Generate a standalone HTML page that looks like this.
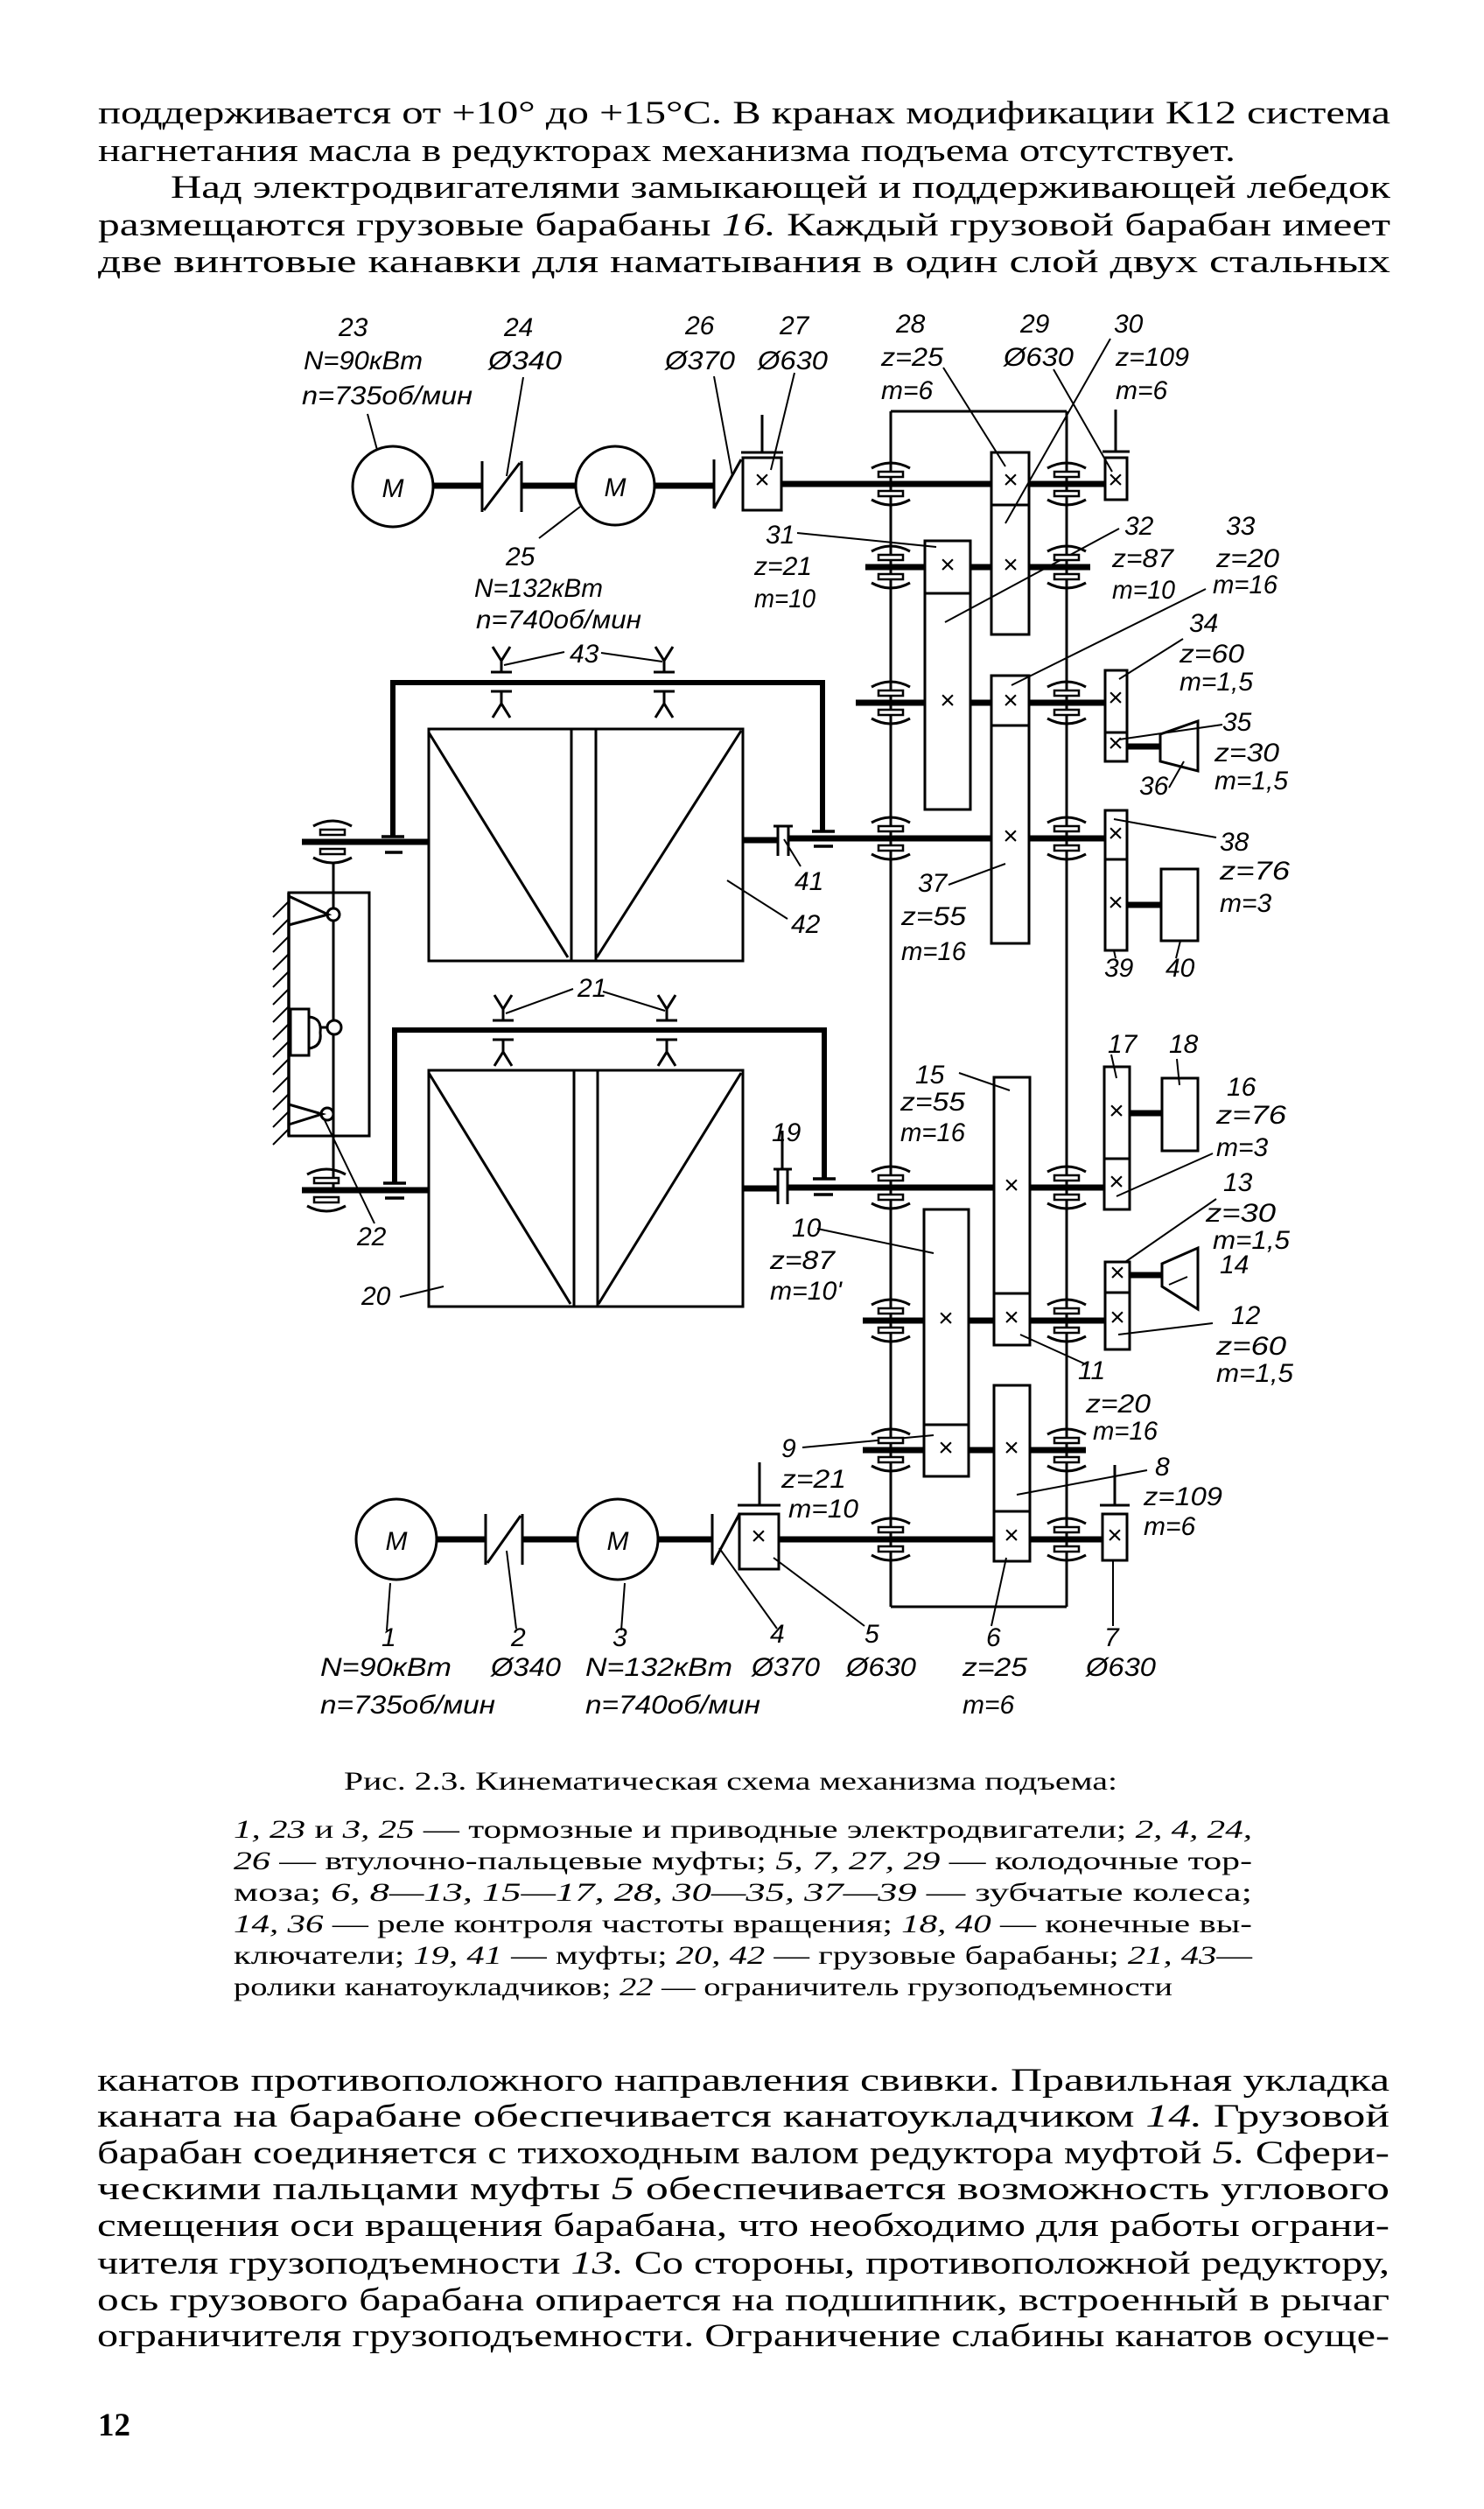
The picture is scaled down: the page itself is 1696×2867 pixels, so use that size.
<!DOCTYPE html>
<html><head><meta charset="utf-8"><style>
html,body{margin:0;padding:0;background:#fff}
svg{display:block}
.t{font-family:"Liberation Serif",serif;font-size:37px;fill:#000}
.c{font-family:"Liberation Serif",serif;font-size:30px;fill:#000}
.l{font-family:"Liberation Sans",sans-serif;font-style:italic;font-size:30px;fill:#000}
.i{font-style:italic}
</style></head><body>
<svg width="1696" height="2867" viewBox="0 0 1696 2867" xmlns="http://www.w3.org/2000/svg">
<defs>
<g id="br"><rect x="-14" y="-14" width="28" height="6" fill="#fff" stroke="#000" stroke-width="2.5"/><rect x="-14" y="8" width="28" height="6" fill="#fff" stroke="#000" stroke-width="2.5"/><path d="M-22,-18 Q0,-30 22,-18 M-22,18 Q0,30 22,18" fill="none" stroke="#000" stroke-width="3"/></g>
<g id="ry"><path d="M-10,-40 L0,-24 L10,-40 M0,-24 V-11 M-12,-11 H12 M-12,11 H12 M0,11 V25 M-10,41 L0,25 L10,41" fill="none" stroke="#000" stroke-width="3"/></g>
</defs>
<!-- top text -->
<text class="t" x="112" y="141" textLength="1477" lengthAdjust="spacingAndGlyphs">поддерживается от +10° до +15°С. В кранах модификации К12 система</text>
<text class="t" x="112" y="184" textLength="1300" lengthAdjust="spacingAndGlyphs">нагнетания масла в редукторах механизма подъема отсутствует.</text>
<text class="t" x="195" y="226" textLength="1394" lengthAdjust="spacingAndGlyphs">Над электродвигателями замыкающей и поддерживающей лебедок</text>
<text class="t" x="112" y="269" textLength="1477" lengthAdjust="spacingAndGlyphs">размещаются грузовые барабаны <tspan class="i">16.</tspan> Каждый грузовой барабан имеет</text>
<text class="t" x="112" y="311" textLength="1477" lengthAdjust="spacingAndGlyphs">две винтовые канавки для наматывания  в один слой  двух  стальных</text>

<g fill="none" stroke="#000" stroke-width="3">
<path d="M1018,470 H1219 M1018,470 V1836 M1219,470 V1836 M1018,1836 H1219"/>
<g stroke-width="7">
<path d="M495,555 H551 M596,555 H658 M748,555 H816 M893,553 H1133 M1176,553 H1263"/>
<path d="M989,648 H1057 M1109,648 H1133 M1176,648 H1246"/>
<path d="M978,803 H1057 M1109,803 H1133 M1176,803 H1263"/>
<path d="M345,962 H490 M849,960 H889 M901,958 H1133 M1176,958 H1263"/>
<path d="M1288,853 H1326 M1288,1034 H1327"/>
<path d="M345,1360 H490 M849,1358 H889 M900,1357 H1136 M1177,1357 H1262"/>
<path d="M986,1509 H1056 M1107,1509 H1136 M1177,1509 H1263"/>
<path d="M986,1657 H1056 M1107,1657 H1136 M1177,1657 H1241"/>
<path d="M499,1759 H555 M597,1759 H660 M752,1759 H814 M890,1759 H1136 M1177,1759 H1260"/>
<path d="M1291,1272 H1328 M1291,1457 H1328"/>
</g>
<circle cx="449" cy="556" r="46"/><circle cx="703" cy="555" r="45"/>
<circle cx="453" cy="1759" r="46"/><circle cx="706" cy="1759" r="46"/>
<path d="M551,527 V585 M596,527 V585 M553,583 L594,529"/>
<path d="M816,525 V581 M816,581 L847,525"/>
<path d="M555,1730 V1788 M597,1730 V1788 M557,1786 L595,1732"/>
<path d="M814,1730 V1788 M814,1788 L845,1730"/>
<g fill="#fff">
<rect x="849" y="523" width="44" height="60"/><rect x="1263" y="523" width="25" height="48"/>
<rect x="845" y="1730" width="45" height="63"/><rect x="1260" y="1730" width="28" height="53"/>
<rect x="1133" y="517" width="43" height="208"/>
<rect x="1057" y="618" width="52" height="307"/>
<rect x="1133" y="772" width="43" height="306"/>
<rect x="1263" y="766" width="25" height="104"/>
<rect x="1263" y="926" width="25" height="160"/>
<rect x="1327" y="993" width="42" height="82"/>
<polygon points="1326,839 1369,824 1369,881 1326,870"/>
<rect x="1136" y="1231" width="41" height="306"/>
<rect x="1056" y="1382" width="51" height="305"/>
<rect x="1136" y="1583" width="41" height="201"/>
<rect x="1262" y="1219" width="29" height="163"/>
<rect x="1328" y="1232" width="41" height="83"/>
<rect x="1263" y="1442" width="28" height="100"/>
<polygon points="1328,1444 1369,1426 1369,1496 1328,1470"/>
</g>
<path d="M1133,577 H1176 M1057,678 H1109 M1133,829 H1176 M1263,837 H1288 M1263,982 H1288 M1136,1478 H1177 M1056,1628 H1107 M1136,1727 H1177 M1262,1324 H1291 M1263,1477 H1291"/>
<path d="M871,474 V517 M847,517 H895 M1275,468 V516 M1260,516 H1291 M868,1671 V1720 M843,1720 H892 M1274,1674 V1720 M1257,1720 H1291"/>
<rect x="490" y="833" width="359" height="265"/>
<path d="M653,833 V1098 M681,833 V1098 M490,837 L649,1094 M847,835 L682,1094"/>
<rect x="490" y="1223" width="359" height="270"/>
<path d="M656,1223 V1493 M683,1223 V1493 M490,1226 L652,1490 M847,1226 L684,1490"/>
<path d="M449,956 V780 H940 V950" stroke-width="6"/>
<path d="M436,956 H462 M440,974 H460 M928,950 H954 M930,967 H952" stroke-width="3.5"/>
<path d="M451,1352 V1177 H942 V1347" stroke-width="6"/>
<path d="M438,1352 H464 M440,1369 H462 M929,1347 H955 M930,1365 H952" stroke-width="3.5"/>
<path d="M884,944 H906 M889,944 V978 M901,944 V978"/>
<path d="M894,1292 V1336 M884,1336 H905 M889,1336 V1376 M900,1336 V1376"/>
<rect x="330" y="1020" width="92" height="278"/>
<path d="M381,985 V1357"/>
<circle cx="381" cy="1045" r="7" fill="#fff"/><circle cx="382" cy="1174" r="8" fill="#fff"/><circle cx="374" cy="1273" r="7" fill="#fff"/>
<path d="M330,1024 L375,1045 L330,1057 M330,1262 L368,1273 L330,1285"/>
<rect x="332" y="1153" width="21" height="53" fill="#fff"/>
<path d="M353,1162 Q368,1163 366,1180 Q368,1196 353,1198 M366,1174 H374"/>
<path d="M330,1020 V1298" stroke-width="3.5"/>
<path d="M330,1030 L312,1048 M330,1050 L312,1068 M330,1070 L312,1088 M330,1090 L312,1108 M330,1110 L312,1128 M330,1130 L312,1148 M330,1150 L312,1168 M330,1170 L312,1188 M330,1190 L312,1208 M330,1210 L312,1228 M330,1230 L312,1248 M330,1250 L312,1268 M330,1270 L312,1288 M330,1290 L312,1308" stroke-width="2"/>
<g stroke-width="2">
<path d="M420,473 L431,514 M598,431 L579,544 M616,615 L663,579 M816,430 L837,544 M908,426 L881,537"/>
<path d="M1078,420 L1149,533 M1204,422 L1271,539 M1269,387 L1149,598 M911,609 L1070,625 M1279,604 L1080,711 M1378,673 L1156,783 M1352,730 L1279,776 M1397,828 L1279,845 M1336,900 L1353,870"/>
<path d="M1390,957 L1273,936 M1084,1011 L1149,987 M1275,1095 L1273,1086 M1344,1095 L1349,1075 M896,959 L915,990 M831,1006 L900,1050"/>
<path d="M645,745 L576,760 M687,746 L757,756 M655,1130 L578,1158 M689,1133 L760,1155"/>
<path d="M371,1280 L428,1398 M457,1482 L507,1470"/>
<path d="M1096,1226 L1154,1246 M1270,1205 L1276,1232 M1345,1210 L1348,1240 M1386,1318 L1276,1367 M1390,1370 L1286,1442 M1357,1459 L1336,1468 M1386,1512 L1278,1525 M1166,1525 L1241,1559 M934,1404 L1067,1432 M917,1654 L1067,1640 M1311,1680 L1162,1708"/>
<path d="M446,1809 L442,1863 M579,1772 L590,1861 M714,1809 L710,1863 M822,1769 L888,1861 M884,1780 L988,1858 M1150,1780 L1133,1858 M1272,1783 V1858"/>
</g>
</g>
<use href="#br" x="1018" y="553"/><use href="#br" x="1219" y="553"/>
<use href="#br" x="1018" y="648"/><use href="#br" x="1219" y="648"/>
<use href="#br" x="1018" y="803"/><use href="#br" x="1219" y="803"/>
<use href="#br" x="1018" y="958"/><use href="#br" x="1219" y="958"/>
<use href="#br" x="1018" y="1357"/><use href="#br" x="1219" y="1357"/>
<use href="#br" x="1018" y="1509"/><use href="#br" x="1219" y="1509"/>
<use href="#br" x="1018" y="1657"/><use href="#br" x="1219" y="1657"/>
<use href="#br" x="1018" y="1759"/><use href="#br" x="1219" y="1759"/>
<use href="#br" x="380" y="962"/><use href="#br" x="373" y="1360"/>
<use href="#ry" x="573" y="779"/><use href="#ry" x="759" y="779"/>
<use href="#ry" x="575" y="1177"/><use href="#ry" x="762" y="1177"/>
<g class="l" font-size="18" text-anchor="middle" style="font-style:normal">
<text x="871" y="558">×</text><text x="1155" y="558">×</text><text x="1155" y="655">×</text><text x="1083" y="655">×</text><text x="1083" y="810">×</text><text x="1155" y="810">×</text><text x="1155" y="965">×</text><text x="1275" y="558">×</text><text x="1275" y="807">×</text><text x="1275" y="859">×</text><text x="1275" y="962">×</text><text x="1275" y="1041">×</text>
<text x="1156" y="1364">×</text><text x="1156" y="1515">×</text><text x="1081" y="1516">×</text><text x="1081" y="1664">×</text><text x="1156" y="1664">×</text><text x="1156" y="1764">×</text><text x="1276" y="1279">×</text><text x="1276" y="1360">×</text><text x="1277" y="1464">×</text><text x="1277" y="1515">×</text><text x="867" y="1765">×</text><text x="1274" y="1764">×</text>
</g>
<g class="l" font-size="34" text-anchor="middle">
<text x="449" y="568">M</text><text x="703" y="567">M</text><text x="453" y="1771">M</text><text x="706" y="1771">M</text>
</g>
<g class="l">
<text x="387" y="384">23</text>
<text x="347" y="422" textLength="136" lengthAdjust="spacingAndGlyphs">N=90кВт</text>
<text x="345" y="462" textLength="195" lengthAdjust="spacingAndGlyphs">n=735об/мин</text>
<text x="576" y="384">24</text>
<text x="558" y="422" textLength="84" lengthAdjust="spacingAndGlyphs">Ø340</text>
<text x="578" y="646">25</text>
<text x="542" y="682" textLength="147" lengthAdjust="spacingAndGlyphs">N=132кВт</text>
<text x="544" y="718" textLength="189" lengthAdjust="spacingAndGlyphs">n=740об/мин</text>
<text x="783" y="382">26</text>
<text x="760" y="422" textLength="80" lengthAdjust="spacingAndGlyphs">Ø370</text>
<text x="891" y="382">27</text>
<text x="866" y="422" textLength="80" lengthAdjust="spacingAndGlyphs">Ø630</text>
<text x="1024" y="380">28</text>
<text x="1007" y="418" textLength="71" lengthAdjust="spacingAndGlyphs">z=25</text>
<text x="1007" y="456">m=6</text>
<text x="1166" y="380">29</text>
<text x="1147" y="418" textLength="80" lengthAdjust="spacingAndGlyphs">Ø630</text>
<text x="1273" y="380">30</text>
<text x="1275" y="418" textLength="84" lengthAdjust="spacingAndGlyphs">z=109</text>
<text x="1275" y="456">m=6</text>
<text x="875" y="621">31</text>
<text x="862" y="657" textLength="66" lengthAdjust="spacingAndGlyphs">z=21</text>
<text x="862" y="694" textLength="70" lengthAdjust="spacingAndGlyphs">m=10</text>
<text x="1285" y="611">32</text>
<text x="1271" y="648" textLength="70" lengthAdjust="spacingAndGlyphs">z=87</text>
<text x="1271" y="684" textLength="72" lengthAdjust="spacingAndGlyphs">m=10</text>
<text x="1401" y="611">33</text>
<text x="1390" y="648" textLength="72" lengthAdjust="spacingAndGlyphs">z=20</text>
<text x="1386" y="678" textLength="74" lengthAdjust="spacingAndGlyphs">m=16</text>
<text x="1359" y="722">34</text>
<text x="1348" y="757" textLength="74" lengthAdjust="spacingAndGlyphs">z=60</text>
<text x="1348" y="789" textLength="84" lengthAdjust="spacingAndGlyphs">m=1,5</text>
<text x="1397" y="835">35</text>
<text x="1388" y="870" textLength="74" lengthAdjust="spacingAndGlyphs">z=30</text>
<text x="1388" y="902" textLength="84" lengthAdjust="spacingAndGlyphs">m=1,5</text>
<text x="1302" y="908">36</text>
<text x="1394" y="972">38</text>
<text x="1394" y="1005" textLength="80" lengthAdjust="spacingAndGlyphs">z=76</text>
<text x="1394" y="1042">m=3</text>
<text x="1262" y="1116">39</text>
<text x="1332" y="1116">40</text>
<text x="1049" y="1019">37</text>
<text x="1030" y="1057" textLength="74" lengthAdjust="spacingAndGlyphs">z=55</text>
<text x="1030" y="1097" textLength="74" lengthAdjust="spacingAndGlyphs">m=16</text>
<text x="908" y="1017">41</text>
<text x="904" y="1066">42</text>
<text x="651" y="757">43</text>
<text x="660" y="1139">21</text>
<text x="882" y="1304">19</text>
<text x="408" y="1423">22</text>
<text x="413" y="1491">20</text>
<text x="1046" y="1238">15</text>
<text x="1029" y="1269" textLength="74" lengthAdjust="spacingAndGlyphs">z=55</text>
<text x="1029" y="1304" textLength="74" lengthAdjust="spacingAndGlyphs">m=16</text>
<text x="1266" y="1203">17</text>
<text x="1336" y="1203">18</text>
<text x="1402" y="1252">16</text>
<text x="1390" y="1284" textLength="80" lengthAdjust="spacingAndGlyphs">z=76</text>
<text x="1390" y="1321">m=3</text>
<text x="1398" y="1361">13</text>
<text x="1378" y="1396" textLength="80" lengthAdjust="spacingAndGlyphs">z=30</text>
<text x="1386" y="1427" textLength="88" lengthAdjust="spacingAndGlyphs">m=1,5</text>
<text x="1394" y="1455">14</text>
<text x="1407" y="1513">12</text>
<text x="1390" y="1548" textLength="80" lengthAdjust="spacingAndGlyphs">z=60</text>
<text x="1390" y="1579" textLength="88" lengthAdjust="spacingAndGlyphs">m=1,5</text>
<text x="1232" y="1576">11</text>
<text x="1241" y="1614" textLength="74" lengthAdjust="spacingAndGlyphs">z=20</text>
<text x="1249" y="1645" textLength="74" lengthAdjust="spacingAndGlyphs">m=16</text>
<text x="905" y="1413">10</text>
<text x="880" y="1450" textLength="74" lengthAdjust="spacingAndGlyphs">z=87</text>
<text x="880" y="1485" textLength="82" lengthAdjust="spacingAndGlyphs">m=10'</text>
<text x="893" y="1665">9</text>
<text x="893" y="1700" textLength="74" lengthAdjust="spacingAndGlyphs">z=21</text>
<text x="901" y="1734" textLength="80" lengthAdjust="spacingAndGlyphs">m=10</text>
<text x="1320" y="1686">8</text>
<text x="1307" y="1720" textLength="90" lengthAdjust="spacingAndGlyphs">z=109</text>
<text x="1307" y="1754">m=6</text>
<text x="436" y="1881">1</text>
<text x="366" y="1915" textLength="150" lengthAdjust="spacingAndGlyphs">N=90кВт</text>
<text x="366" y="1958" textLength="200" lengthAdjust="spacingAndGlyphs">n=735об/мин</text>
<text x="584" y="1881">2</text>
<text x="561" y="1915" textLength="80" lengthAdjust="spacingAndGlyphs">Ø340</text>
<text x="700" y="1881">3</text>
<text x="669" y="1915" textLength="168" lengthAdjust="spacingAndGlyphs">N=132кВт</text>
<text x="669" y="1958" textLength="200" lengthAdjust="spacingAndGlyphs">n=740об/мин</text>
<text x="880" y="1877">4</text>
<text x="859" y="1915" textLength="78" lengthAdjust="spacingAndGlyphs">Ø370</text>
<text x="988" y="1877">5</text>
<text x="967" y="1915" textLength="80" lengthAdjust="spacingAndGlyphs">Ø630</text>
<text x="1127" y="1881">6</text>
<text x="1100" y="1915" textLength="74" lengthAdjust="spacingAndGlyphs">z=25</text>
<text x="1100" y="1958">m=6</text>
<text x="1262" y="1881">7</text>
<text x="1241" y="1915" textLength="80" lengthAdjust="spacingAndGlyphs">Ø630</text>
</g>
<text class="c" x="393" y="2045" textLength="884" lengthAdjust="spacingAndGlyphs">Рис. 2.3. Кинематическая схема механизма подъема:</text>
<g class="c" font-size="28">
<text x="267" y="2100" textLength="1164" lengthAdjust="spacingAndGlyphs"><tspan class="i">1, 23</tspan> и  <tspan class="i">3, 25</tspan> — тормозные и приводные электродвигатели; <tspan class="i">2, 4, 24,</tspan></text>
<text x="267" y="2136" textLength="1164" lengthAdjust="spacingAndGlyphs"><tspan class="i">26</tspan> — втулочно-пальцевые муфты; <tspan class="i">5, 7, 27, 29</tspan> — колодочные тор-</text>
<text x="267" y="2172" textLength="1164" lengthAdjust="spacingAndGlyphs">моза;  <tspan class="i">6, 8—13,  15—17, 28,  30—35, 37—39</tspan> — зубчатые  колеса;</text>
<text x="267" y="2208" textLength="1164" lengthAdjust="spacingAndGlyphs"><tspan class="i">14, 36</tspan> — реле контроля частоты вращения; <tspan class="i">18, 40</tspan> — конечные вы-</text>
<text x="267" y="2244" textLength="1164" lengthAdjust="spacingAndGlyphs">ключатели; <tspan class="i">19, 41</tspan> — муфты; <tspan class="i">20, 42</tspan> — грузовые барабаны; <tspan class="i">21, 43</tspan>—</text>
<text x="267" y="2280" textLength="1073" lengthAdjust="spacingAndGlyphs">ролики канатоукладчиков; <tspan class="i">22</tspan> — ограничитель грузоподъемности</text>
</g>
<text class="t" x="111" y="2389" textLength="1477" lengthAdjust="spacingAndGlyphs">канатов противоположного направления свивки.  Правильная укладка</text>
<text class="t" x="111" y="2430" textLength="1477" lengthAdjust="spacingAndGlyphs">каната на барабане обеспечивается  канатоукладчиком <tspan class="i">14.</tspan>  Грузовой</text>
<text class="t" x="111" y="2472" textLength="1477" lengthAdjust="spacingAndGlyphs">барабан соединяется с тихоходным валом редуктора  муфтой <tspan class="i">5.</tspan> Сфери-</text>
<text class="t" x="111" y="2513" textLength="1477" lengthAdjust="spacingAndGlyphs">ческими пальцами муфты <tspan class="i">5</tspan>  обеспечивается  возможность  углового</text>
<text class="t" x="111" y="2555" textLength="1477" lengthAdjust="spacingAndGlyphs">смещения оси вращения барабана, что необходимо для работы ограни-</text>
<text class="t" x="111" y="2598" textLength="1477" lengthAdjust="spacingAndGlyphs">чителя грузоподъемности <tspan class="i">13.</tspan> Со стороны, противоположной редуктору,</text>
<text class="t" x="111" y="2640" textLength="1477" lengthAdjust="spacingAndGlyphs">ось грузового барабана опирается на подшипник,  встроенный в рычаг</text>
<text class="t" x="111" y="2681" textLength="1477" lengthAdjust="spacingAndGlyphs">ограничителя грузоподъемности. Ограничение слабины канатов осуще-</text>
<text class="t" x="112" y="2783" font-weight="bold" font-size="34">12</text>
</svg>
</body></html>
